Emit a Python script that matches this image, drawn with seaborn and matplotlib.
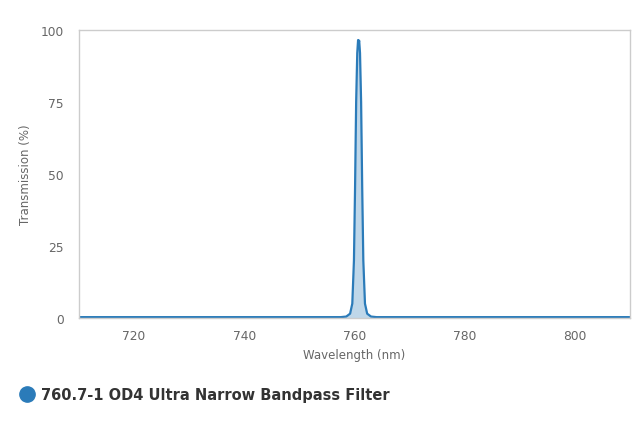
import numpy as np
import pandas as pd
import matplotlib
matplotlib.use("Agg")
import matplotlib.pyplot as plt
import seaborn as sns
from matplotlib.lines import Line2D

# transmission curve
wavelength = [710, 757.5, 758.5, 759.2, 759.6, 759.9, 760.1, 760.3, 760.5, 760.65,
              760.75, 760.85, 761.0, 761.2, 761.4, 761.6, 761.9, 762.3, 763.0, 764.0, 810]
transmission = [0.3, 0.3, 0.5, 1.5, 5, 20, 45, 75, 92, 96.5,
                95.5, 96.3, 92, 75, 45, 20, 5, 1.5, 0.5, 0.3, 0.3]
x_ticks = [720, 740, 760, 780, 800]
y_ticks = [0, 25, 50, 75, 100]
series_name = "760.7-1 OD4 Ultra Narrow Bandpass Filter"

df = pd.DataFrame({"Wavelength": wavelength, "Transmission": transmission})

sns.set_style("white")
plt.rcParams["font.family"] = ["DejaVu Sans"]

line_color = "#2b7bb9"
tick_color = "#ccd6eb"
text_color = "#666666"

fig = plt.figure(figsize=(6.4, 4.27), dpi=100)
ax = fig.add_axes([79 / 640, 1 - 319 / 427, 551 / 640, 288 / 427])

ax.fill_between(df["Wavelength"], df["Transmission"], color=line_color, alpha=0.3, lw=0)
sns.lineplot(data=df, x="Wavelength", y="Transmission", ax=ax, color=line_color, lw=1.6)

ax.set_xlim(710, 810)
ax.set_ylim(0, 100)
ax.set_xticks(x_ticks)
ax.set_yticks(y_ticks)
ax.tick_params(axis="both", colors=tick_color, length=7.5, width=1, labelsize=8.8,
               labelcolor=text_color)
ax.tick_params(axis="x", pad=0.5)
ax.tick_params(axis="y", pad=3.5)
for s in ax.spines.values():
    s.set_color("#cccccc")
    s.set_linewidth(1)
ax.set_xlabel("Wavelength (nm)", color=text_color, fontsize=8.5, labelpad=4)
ax.set_ylabel("Transmission (%)", color=text_color, fontsize=8.5, labelpad=6)

handle = Line2D([], [], marker="o", color=line_color, lw=0, markersize=11)
fig.legend([handle], [series_name], loc="center left", bbox_to_anchor=(0.008, 1 - 396 / 427),
           frameon=False, handletextpad=0.35, handlelength=1.2,
           prop={"weight": "bold", "size": 10.5}, labelcolor="#333333")

fig.savefig("out.png", dpi=100)
